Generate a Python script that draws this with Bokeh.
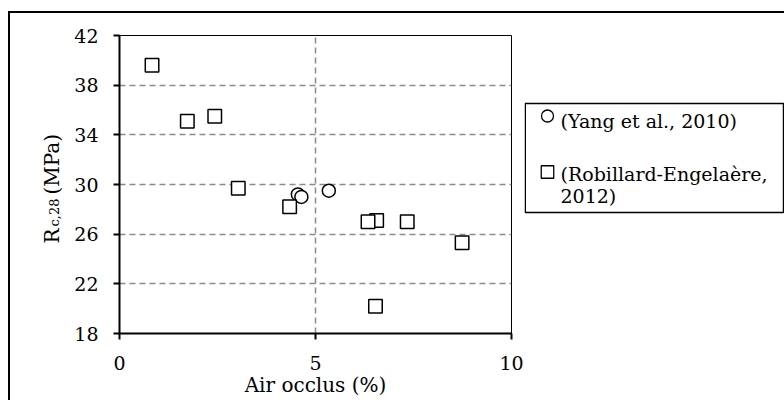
import math
from bokeh.plotting import figure
from bokeh.layouts import row
from bokeh.models import Range1d, FixedTicker
from bokeh.core.properties import value
from bokeh.embed import file_html
from bokeh.resources import INLINE

# ---- data ----
yang_x = [4.55, 4.64, 5.34]
yang_y = [29.2, 29.0, 29.5]
rob_x = [0.83, 1.73, 2.43, 3.03, 4.34, 6.56, 6.34, 7.34, 6.53, 8.74]
rob_y = [39.6, 35.1, 35.5, 29.7, 28.2, 27.1, 27.0, 27.0, 20.2, 25.3]
x_ticks = [0, 5, 10]
y_ticks = [18, 22, 26, 30, 34, 38, 42]
series_labels = ["(Yang et al., 2010)", "(Robillard-Engelaère,\n2012)"]
x_label = "Air occlus (%)"
y_label_parts = ["R", "c,28", "(MPa)"]

FONT = "DejaVu Serif"
H = 387
TOP, BOT = 22, 67          # borders shared by all three panels (frames are aligned)
FRAME_TOP, FRAME_BOT = 35, 333   # page pixel rows of the aligned frame

# ---------- left strip: y-axis title with subscript ----------
fy = figure(width=56, height=H, output_backend="svg", toolbar_location=None,
            x_range=Range1d(10, 66), y_range=Range1d(400 - FRAME_BOT, 400 - FRAME_TOP),
            x_axis_type=None, y_axis_type=None,
            min_border_left=0, min_border_right=0, min_border_top=TOP, min_border_bottom=BOT)
fy.outline_line_color = None
fy.grid.visible = False
ylab_x = [51, 54, 51]
ylab_y = [157, 174, 206]
ylab_fs = ["20px", "13px", "20px"]
for t, xx, yy, fs in zip(y_label_parts, ylab_x, ylab_y, ylab_fs):
    fy.text(x=[xx], y=[yy], text=[t], angle=math.pi / 2, text_font=value(FONT),
            text_font_size=value(fs), text_color="black", text_align="left",
            text_baseline="alphabetic")

# ---------- main plot ----------
p = figure(width=458, height=H, output_backend="svg", toolbar_location=None,
           x_range=Range1d(0, 10), y_range=Range1d(18, 42),
           min_border_left=53, min_border_right=13, min_border_top=TOP, min_border_bottom=BOT)
p.background_fill_color = "white"
p.border_fill_color = "white"
p.outline_line_color = "black"
p.outline_line_width = 1

for ax in (p.xaxis[0], p.yaxis[0]):
    ax.axis_line_color = "black"
    ax.axis_line_width = 2
    ax.major_tick_line_color = "black"
    ax.major_tick_line_width = 2
    ax.major_tick_out = 6
    ax.major_tick_in = 0
    ax.minor_tick_line_color = None
    ax.major_label_text_font = FONT
    ax.major_label_text_font_size = "19px"
    ax.major_label_text_color = "black"

p.xaxis.ticker = FixedTicker(ticks=x_ticks, minor_ticks=[])
p.yaxis.ticker = FixedTicker(ticks=y_ticks, minor_ticks=[])
p.xaxis.major_label_standoff = 16
p.yaxis.major_label_standoff = 15
p.xaxis.axis_label = x_label
p.xaxis.axis_label_text_font = FONT
p.xaxis.axis_label_text_font_size = "20px"
p.xaxis.axis_label_text_font_style = "normal"
p.xaxis.axis_label_text_color = "black"
p.xaxis.axis_label_standoff = 0

p.xgrid.ticker = FixedTicker(ticks=x_ticks)
p.ygrid.ticker = FixedTicker(ticks=y_ticks)
for g in (p.xgrid[0], p.ygrid[0]):
    g.grid_line_color = "#8a8a8a"
    g.grid_line_width = 1.5
    g.grid_line_dash = "6 4"

p.scatter(yang_x, yang_y, marker="circle", size=13, fill_color="white",
          line_color="black", line_width=1.5)
p.scatter(rob_x, rob_y, marker="square", size=13.5, fill_color="white",
          line_color="black", line_width=1.5)

# ---------- right strip: legend (page-pixel coordinates, y downward) ----------
fl = figure(width=260, height=H, output_backend="svg", toolbar_location=None,
            x_range=Range1d(524, 784), y_range=Range1d(FRAME_BOT, FRAME_TOP),
            x_axis_type=None, y_axis_type=None,
            min_border_left=0, min_border_right=0, min_border_top=TOP, min_border_bottom=BOT)
fl.outline_line_color = None
fl.grid.visible = False
fl.quad(left=[524.75], right=[783], top=[103], bottom=[212], fill_color="white",
        line_color="black", line_width=1.5)
fl.scatter([547], [115.5], marker="circle", size=12, fill_color="white",
           line_color="black", line_width=1.3)
fl.scatter([547], [171.5], marker="square", size=12.5, fill_color="white",
           line_color="black", line_width=1.3)
leg_lines = [series_labels[0]] + series_labels[1].split("\n")
leg_base = [120, 173, 195]
fl.text(x=[560] * len(leg_lines), y=leg_base, text=leg_lines, text_font=value(FONT),
        text_font_size=value("19px"), text_color="black", text_align="left",
        text_baseline="alphabetic")

layout = row(fy, p, fl, spacing=0)
layout.styles = {"border-left": "2px solid black", "border-top": "2px solid black",
                 "margin-top": "11px", "margin-left": "8px"}

open("out.html", "w").write(file_html(layout, INLINE))
